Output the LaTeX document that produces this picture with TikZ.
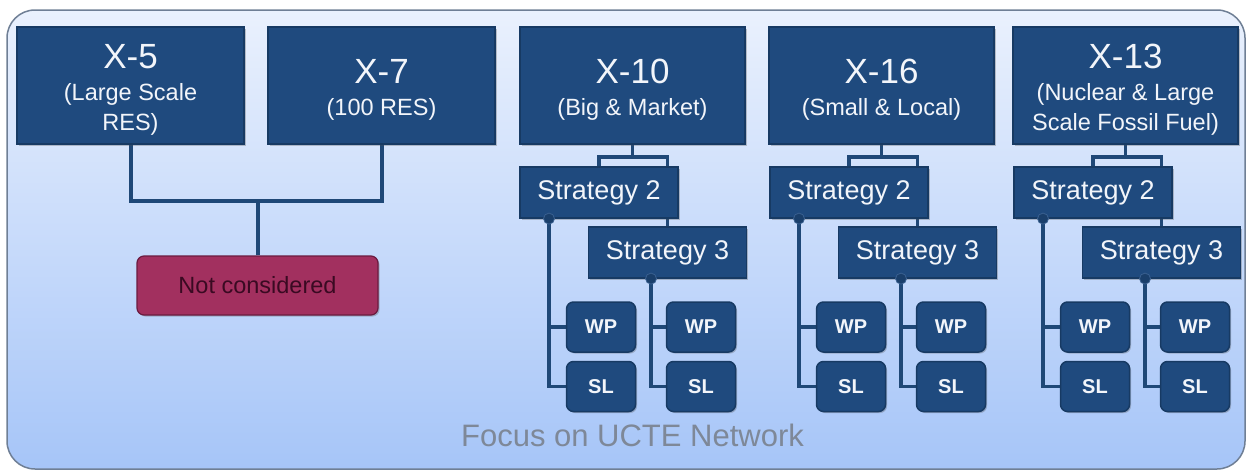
\documentclass[tikz,border=0pt]{standalone}
\usepackage{fontspec}
\setmainfont{Liberation Sans}
\usetikzlibrary{calc,shadows}
\definecolor{boxblue}{HTML}{1F4A7E}
\definecolor{boxedge}{HTML}{173A63}
\definecolor{linec}{HTML}{1F4877}
\definecolor{magc}{HTML}{A2305F}
\definecolor{magedge}{HTML}{6B1B40}
\definecolor{magtext}{HTML}{3A0A22}
\definecolor{frametop}{HTML}{EAF1FD}
\definecolor{framebot}{HTML}{A6C5F8}
\definecolor{frameedge}{HTML}{6F7F95}
\definecolor{focusc}{HTML}{7E8898}
\definecolor{boxtext}{HTML}{F2F5FA}
\definecolor{dotedge}{HTML}{3A6090}
\pgfdeclarelayer{bg}
\pgfdeclarelayer{lines}
\pgfsetlayers{bg,lines,main}
\newcommand{\bigline}[1]{{\fontsize{35}{36}\selectfont\rule{0pt}{33pt}#1}}
\tikzset{
  shad/.style={drop shadow={shadow xshift=1.5pt,shadow yshift=-1.5pt,opacity=0.3,fill=black!70}},
  xbox/.style={rectangle, fill=boxblue, draw=boxedge, line width=1.2pt, text=boxtext,
    align=center, inner sep=0pt, minimum height=117pt,
    font=\fontsize{23.5}{30}\selectfont, shad},
  stratbox/.style={rectangle, fill=boxblue, draw=boxedge, line width=1.2pt, text=boxtext,
    inner sep=0pt, minimum width=158pt, minimum height=51pt,
    font=\fontsize{27}{30}\selectfont, shad},
  leafbox/.style={rectangle, rounded corners=7pt, fill=boxblue, draw=boxedge, line width=1.5pt,
    text=boxtext, inner sep=0pt, minimum width=69pt, minimum height=50pt,
    font=\bfseries\fontsize{20}{22}\selectfont, shad},
  ncbox/.style={rectangle, rounded corners=7pt, fill=magc, draw=magedge, line width=1.2pt,
    text=magtext, inner sep=0pt, minimum width=241pt, minimum height=59pt,
    font=\fontsize{23.5}{26}\selectfont, shad},
  conn/.style={draw=linec, line width=3.5pt},
  thickconn/.style={draw=linec, line width=4pt},
  dotc/.style={fill=boxblue!85!black, draw=dotedge, line width=0.8pt}
}
\begin{document}
\begin{tikzpicture}[x=1pt,y=-1pt]
\useasboundingbox (0,0) rectangle (1246,471);
\begin{pgfonlayer}{bg}
  \draw[frameedge, line width=1.5pt, top color=frametop, bottom color=framebot, rounded corners=28pt]
    (7,10) rectangle (1245,469);
\end{pgfonlayer}

% top boxes
\node[xbox, minimum width=227pt] (x5) at (130.5,85.5)
  {\bigline{X-5}\\[2pt](Large Scale\\RES)};
\node[xbox, minimum width=227pt] (x7) at (381.5,85.5)
  {\bigline{X-7}\\[2pt](100 RES)};
\node[xbox, minimum width=225pt] (xa) at (632.5,85.5)
  {\bigline{X-10}\\[2pt](Big \& Market)};
\node[xbox, minimum width=225pt] (xb) at (881.5,85.5)
  {\bigline{X-16}\\[2pt](Small \& Local)};
\node[xbox, minimum width=225pt] (xc) at (1125.5,85.5)
  {\bigline{X-13}\\[2pt](Nuclear \& Large\\Scale Fossil Fuel)};

% not considered
\node[ncbox] (nc) at (257.5,285.5) {Not considered};
\begin{pgfonlayer}{lines}
  \draw[thickconn] (x5.south) -- ++(0,56) coordinate (j57) -- (j57 -| x7.south) -- (x7.south);
  \draw[thickconn] (nc.north) -- (nc.north |- j57);
\end{pgfonlayer}

% strategy columns
\foreach \id/\dx in {a/0,b/250,c/494}{
  \node[stratbox] (s2\id) at (599+\dx,192.5) {Strategy 2};
  \node[stratbox] (s3\id) at (667.5+\dx,252.5) {Strategy 3};
  \node[leafbox] (wpl\id) at (601+\dx,327) {WP};
  \node[leafbox] (sll\id) at (601+\dx,386.5) {SL};
  \node[leafbox] (wpr\id) at (701+\dx,327) {WP};
  \node[leafbox] (slr\id) at (701+\dx,386.5) {SL};
  \coordinate (dl\id) at ($(s2\id.south)+(-50,0)$);
  \coordinate (dr\id) at ($(s3\id.south)+(-16.5,0)$);
  \begin{pgfonlayer}{lines}
    \draw[conn] (x\id.south) -- ++(0,12.5) coordinate (j\id);
    \draw[conn] (s2\id.north) |- (j\id) -| (s3\id.north);
    \draw[conn] (dl\id) |- (wpl\id.west);
    \draw[conn] (dl\id) |- (sll\id.west);
    \draw[conn] (dr\id) |- (wpr\id.west);
    \draw[conn] (dr\id) |- (slr\id.west);
  \end{pgfonlayer}
  \filldraw[dotc] (dl\id) circle (5.5pt);
  \filldraw[dotc] (dr\id) circle (5.5pt);
}

\node[text=focusc, anchor=base, font=\fontsize{31}{34}\selectfont] (focus) at (632.5,446)
  {Focus on UCTE Network};
\end{tikzpicture}
\end{document}
